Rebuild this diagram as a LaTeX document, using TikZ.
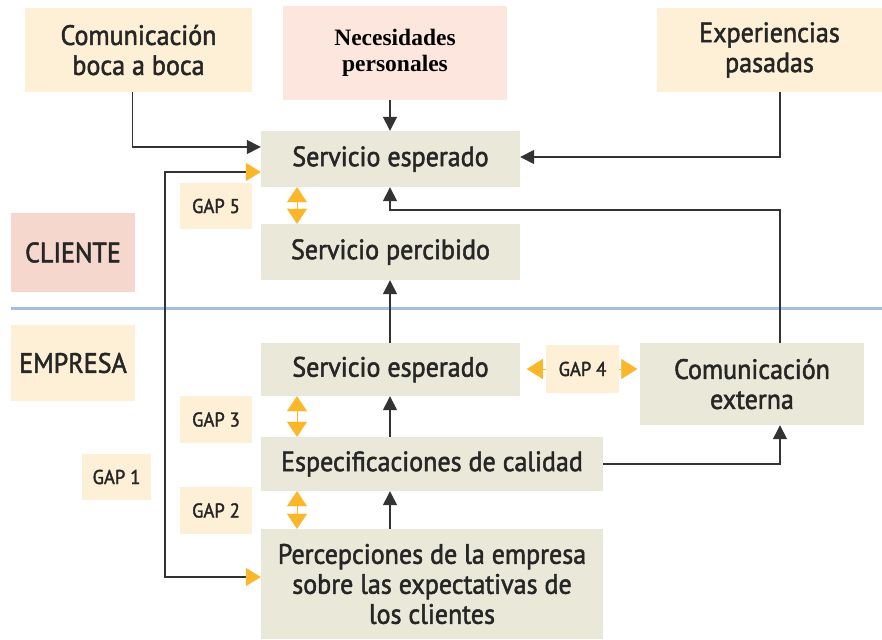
\documentclass[tikz,border=0pt]{standalone}
\usepackage{fontspec}
\setmainfont{PT Sans}[FakeStretch=0.93, FakeBold=1.8]
\newfontfamily\necfont{Liberation Serif}
\usetikzlibrary{arrows.meta}

\definecolor{boxgray}{HTML}{EAE8D8}
\definecolor{boxcream}{HTML}{FEF0D6}
\definecolor{boxpink}{HTML}{FDE6DD}
\definecolor{boxrose}{HTML}{F5D7CE}
\definecolor{gaporange}{HTML}{FBB62A}
\definecolor{linegray}{HTML}{333333}
\definecolor{textgray}{HTML}{262626}
\definecolor{divblue}{HTML}{A3BFE2}

\begin{document}
\begin{tikzpicture}[x=1pt, y=-1pt]
	\tikzstyle{box}      = [rectangle, inner sep=0pt, align=center, text=textgray, font=\fontsize{28}{30}\selectfont]
	\tikzstyle{stagebox} = [box, fill=boxgray]
	\tikzstyle{creambox} = [box, fill=boxcream]
	\tikzstyle{gaplabel} = [box, fill=boxcream, font=\fontsize{20}{22}\selectfont]
	\tikzstyle{conn}     = [draw=linegray, line width=1.5pt, -{Triangle[length=14pt, width=14pt]}]
	\tikzstyle{gapconn}  = [draw=linegray, line width=1.5pt, {Triangle[length=15pt, width=18pt, color=gaporange]}-{Triangle[length=15pt, width=18pt, color=gaporange]}]
	\tikzstyle{gapdbl}   = [draw=gaporange, line width=0.1pt, {Triangle[length=15pt, width=20pt]}-{Triangle[length=15pt, width=20pt]}]
	\tikzstyle{gaptip}   = [draw=gaporange, line width=0.1pt, -{Triangle[length=16pt, width=20pt]}]

	\useasboundingbox (0,0) rectangle (882,639);

	% sources of the expectation
	\node[creambox, minimum width=227pt, minimum height=84pt] (boca) at (138.5,50) {Comunicación\\boca a boca};
	\node[box, fill=boxpink, minimum width=224pt, minimum height=94pt, font=\necfont\bfseries\fontsize{23.5}{26}\selectfont, text=black] (neces) at (395,53) {Necesidades\\personales};
	\node[creambox, minimum width=225pt, minimum height=84pt] (exper) at (769.5,50) {Experiencias\\pasadas};

	% client side
	\node[stagebox, minimum width=259pt, minimum height=56pt] (sesp) at (390.5,159) {Servicio esperado};
	\node[stagebox, minimum width=259pt, minimum height=56pt] (sperc) at (390.5,252) {Servicio percibido};
	\node[box, fill=boxrose, minimum width=124pt, minimum height=79pt] (cliente) at (73,252.5) {CLIENTE};

	\draw[divblue, line width=3pt] (11,308) -- (882,308);

	% company side
	\node[creambox, minimum width=124pt, minimum height=76pt] (empresa) at (73,363) {EMPRESA};
	\node[stagebox, minimum width=259pt, minimum height=53pt] (sesp2) at (390.5,369.5) {Servicio esperado};
	\node[stagebox, minimum width=224pt, minimum height=82pt] (comext) at (752,384) {Comunicación\\externa};
	\node[stagebox, minimum width=342pt, minimum height=54pt] (espec) at (432,464) {Especificaciones de calidad};
	\node[stagebox, minimum width=342pt, minimum height=110pt] (percep) at (432,584) {Percepciones de la empresa\\sobre las expectativas de\\los clientes};

	\foreach \name/\x/\y/\w/\h/\num in {gap5/216/206/72/46/5, gap4/582.5/369/73/48/4, gap3/216/419.5/72/47/3, gap1/116.5/477/69/46/1, gap2/216/510.5/72/47/2}
		\node[gaplabel, minimum width=\w pt, minimum height=\h pt] (\name) at (\x,\y) {GAP \num};

	\coordinate (mid) at (390,0);
	\coordinate (gx) at (297,0);
	\coordinate (rail) at (780,210);
	\coordinate (g1top) at (165,172);

	\foreach \from/\a/\to/\b in {neces/south/sesp/north, sesp2/north/sperc/south, espec/north/sesp2/south, percep/north/espec/south}
		\draw[conn] (\from.\a -| mid) -- (\to.\b -| mid);

	\draw[conn] ([xshift=-6pt]boca.south) |- ([yshift=12pt]sesp.west);
	\draw[conn] (exper.south -| rail) |- ([yshift=2pt]sesp.east);
	\draw[conn] (comext.north -| rail) -- (rail) -| (sesp.south -| mid);
	\draw[conn] (espec.east) -| (comext.south -| rail);

	% gaps
	\draw[gapconn] ([yshift=7pt]percep.west) -| (g1top) -- ([yshift=-13pt]sesp.west);
	\foreach \from/\to in {sesp/sperc, sesp2/espec, espec/percep}
		\draw[gapdbl] (\from.south -| gx) -- (\to.north -| gx);
	\draw[gaptip] (gap4.west) -- ++(-19,0);
	\draw[gaptip] (gap4.east) -- ++(18,0);
\end{tikzpicture}
\end{document}
